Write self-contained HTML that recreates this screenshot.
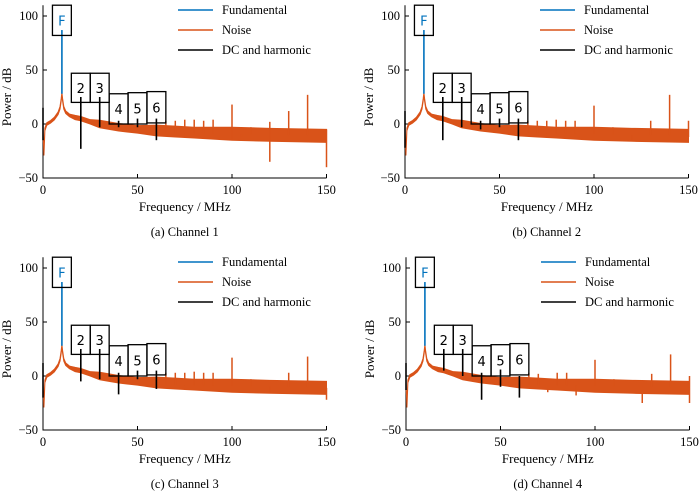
<!DOCTYPE html>
<html><head><meta charset="utf-8">
<style>
html,body{margin:0;padding:0;background:#fff;}
svg{display:block;font-family:"Liberation Serif",serif;}
.box text{font-family:"DejaVu Sans","Liberation Sans",sans-serif;}
</style></head>
<body>
<svg id="fig" width="700" height="494" viewBox="0 0 700 494"></svg>
<script>
// ---- data ----
const panelTitles = ["(a) Channel 1","(b) Channel 2","(c) Channel 3","(d) Channel 4"];
const xTicks = [0,50,100,150];
const yTicks = [100,50,0,-50];
const fundFreq = 10;
const fundPeak = 87;
const fundBase = 28;
const harmFreqs = [0,20,30,40,50,60];
const harmLabels = ["","2","3","4","5","6"];
const harmLo = [[-15,-23,-3,-3,-3,-15],[-22,-15,-3,-5,-3,-15],[-20,-5,-3,-17,-3,-12],[-13,5,0,-22,-10,-20]];
const harmHi = [[15,25,25,3,5,5],[12,25,25,3,5,5],[12,25,25,3,5,5],[12,25,25,3,6,0]];
const noiseFreqs = [0,0.5,1,2,4,6,8,9,9.6,10,10.4,11,12,14,17,20,25,30,40,50,60,70,80,100,120,150];
const noiseLevel = [-5,-28,-5,0,2,5,10,15,22,28,22,15,11,8,6,5,2,0,-3,-5,-6,-7,-8,-9,-10,-11];
const spurFreqs = [[65,70,75,80,85,90,100,100,105,110,120,120,130,140,150,150],
                   [65,70,75,80,85,90,100,110,120,130,140,150,150],
                   [65,70,75,80,85,90,100,110,120,130,140,150],
                   [65,70,75,80,85,90,100,110,125,130,140,150,150]];
const spurVals = [[3,3,4,4,3,4,18,-15,-12,-3,-35,2,12,27,-40,-5],
                  [3,3,3,4,3,3,17,-3,-15,3,27,-12,3],
                  [3,3,3,4,3,3,17,-3,-15,3,18,-22],
                  [3,2,-15,3,3,-18,15,-3,-25,2,20,-25,0]];
const boxes = [{l:5,r:15,t:110,b:82,txt:"F"},{l:15,r:25,t:47,b:20,txt:"2"},{l:25,r:35,t:47,b:20,txt:"3"},
               {l:35,r:45,t:28,b:0,txt:"4"},{l:45,r:55,t:29,b:0,txt:"5"},{l:55,r:65,t:30,b:1,txt:"6"}];
// ---- drawing ----
const NS="http://www.w3.org/2000/svg";
const svg=document.getElementById('fig');
function el(tag,attrs,parent){const e=document.createElementNS(NS,tag);for(const k in attrs)e.setAttribute(k,attrs[k]);(parent||svg).appendChild(e);return e;}
const origins=[[43,16],[405,16],[43,268],[406,268]];
const RED="#d95319",BLUE="#0072bd";
for(let p=0;p<4;p++){
  const [ox,oy]=origins[p];
  const X=f=>ox+f*(283.5/150);
  const Y=v=>oy+(100-v)*(162/150);
  const g=el('g',{});
  
  
  const ax=el('path',{d:`M${X(0)},${Y(110)}V${Y(-50)}H${X(150)}`,stroke:'#000','stroke-width':1,fill:'none'},g);
  
  xTicks.forEach(t=>{
    el('line',{x1:X(t),x2:X(t),y1:Y(-50),y2:Y(-50)-4,stroke:'#000'},g);
    const tx=el('text',{x:X(t),y:Y(-50)+16,'font-size':12.5,'text-anchor':'middle'},g);tx.textContent=t;
    
  });
  yTicks.forEach(t=>{
    el('line',{x1:X(0),x2:X(0)+4,y1:Y(t),y2:Y(t),stroke:'#000'},g);
    const tx=el('text',{x:X(0)-5,y:Y(t)+4,'font-size':12.5,'text-anchor':'end'},g);tx.textContent=t<0?'\u2212'+(-t):t;
    
  });
  const xl=el('text',{x:X(75),y:Y(-50)+33,'font-size':13,'text-anchor':'middle'},g);xl.textContent='Frequency / MHz';
  
  const yl=el('text',{x:0,y:0,'font-size':13,'text-anchor':'middle',transform:`translate(${ox-32},${Y(25)}) rotate(-90)`},g);yl.textContent='Power / dB';
  
  const cap=el('text',{x:X(75),y:Y(-50)+58,'font-size':12.5,'text-anchor':'middle'},g);cap.textContent=panelTitles[p];
  
  let up=[],dn=[];
  noiseFreqs.forEach((f,i)=>{const w=f<15?1.2:(f<30?2:(f<60?3.5:(f<100?5:6)));up.push(X(f)+','+Y(noiseLevel[i]+w));dn.unshift(X(f)+','+Y(noiseLevel[i]-w));});
  const nb=el('polygon',{points:up.concat(dn).join(' '),fill:RED,stroke:RED,'stroke-width':1},g);
  
  spurFreqs[p].forEach((f,i)=>{
    const v=spurVals[p][i];const base=noiseLevel[noiseLevel.length-1]+(150-f)/30;
    const s=el('line',{x1:X(f),x2:X(f),y1:Y(base),y2:Y(v),stroke:RED,'stroke-width':1.5},g);
    
  });
  const fl=el('line',{x1:X(fundFreq),x2:X(fundFreq),y1:Y(fundBase),y2:Y(fundPeak),stroke:BLUE,'stroke-width':1.6},g);
  
  harmFreqs.forEach((f,i)=>{
    const h=el('line',{x1:X(f),x2:X(f),y1:Y(harmLo[p][i]),y2:Y(harmHi[p][i]),stroke:'#000','stroke-width':1.6},g);
    
  });
  boxes.forEach(b=>{
    const bg=el('g',{class:'box'},g);
    
    el('rect',{x:X(b.l),y:Y(b.t),width:X(b.r)-X(b.l),height:Y(b.b)-Y(b.t),fill:'none',stroke:'#000','stroke-width':1.3},bg);
    const t=el('text',{x:(X(b.l)+X(b.r))/2,y:(Y(b.t)+Y(b.b))/2+5,'font-size':13,'text-anchor':'middle',fill:b.txt==='F'?BLUE:'#000'},bg);t.textContent=b.txt;
  });
  const lg=el('g',{},g);
  [["Fundamental",BLUE],["Noise",RED],["DC and harmonic","#000"]].forEach((e,i)=>{
    const ly=oy-6+i*20;
    const le=el('g',{},lg);
    el('line',{x1:ox+135,x2:ox+170,y1:ly,y2:ly,stroke:e[1],'stroke-width':1.5},le);
    const t=el('text',{x:ox+179,y:ly+4,'font-size':12.5},le);t.textContent=e[0];
  });
}
</script>
</body></html>
